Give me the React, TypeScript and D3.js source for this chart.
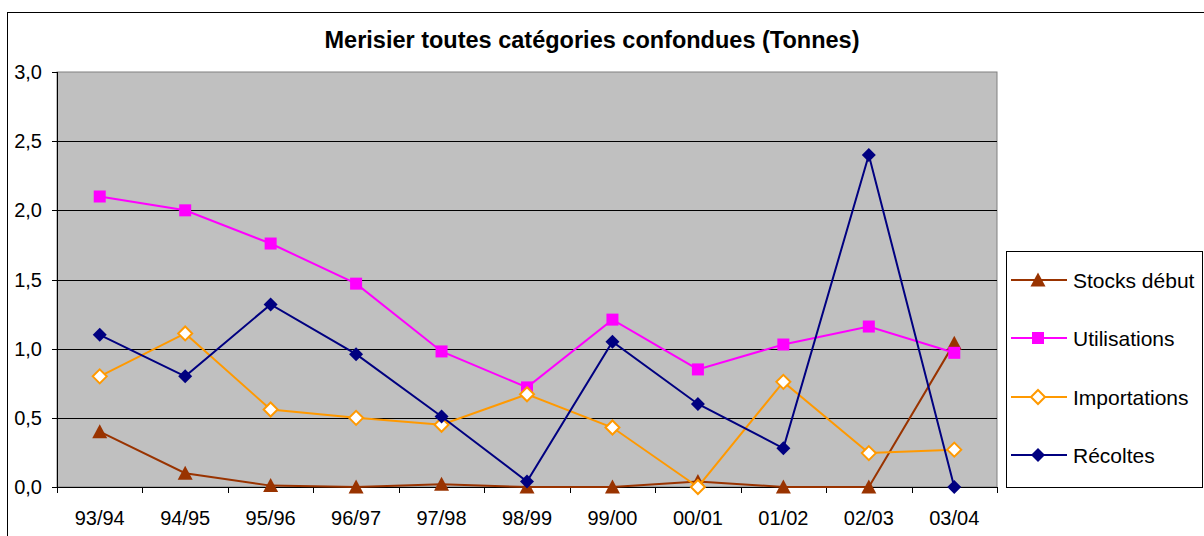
import React from "react";
import * as d3 from "d3";

const categories = ["93/94", "94/95", "95/96", "96/97", "97/98", "98/99", "99/00", "00/01", "01/02", "02/03", "03/04"];
const stocks = [0.4, 0.1, 0.01, 0, 0.02, 0, 0, 0.04, 0, 0, 1.04];
const utilisations = [2.1, 2.0, 1.76, 1.47, 0.98, 0.72, 1.21, 0.85, 1.03, 1.16, 0.97];
const importations = [0.8, 1.11, 0.56, 0.5, 0.45, 0.67, 0.43, 0.0, 0.76, 0.245, 0.27];
const recoltes = [1.1, 0.8, 1.32, 0.96, 0.51, 0.04, 1.05, 0.6, 0.28, 2.4, 0];
const yTicks = [0, 0.5, 1, 1.5, 2, 2.5, 3];
const title = "Merisier toutes catégories confondues (Tonnes)";

type Series = { name: string; values: number[]; color: string; marker: "triangle" | "square" | "diamondOpen" | "diamond" };
const series: Series[] = [
  { name: "Stocks début", values: stocks, color: "#993300", marker: "triangle" },
  { name: "Utilisations", values: utilisations, color: "#FF00FF", marker: "square" },
  { name: "Importations", values: importations, color: "#FF9900", marker: "diamondOpen" },
  { name: "Récoltes", values: recoltes, color: "#000080", marker: "diamond" },
];

const FONT = "Arial, 'Liberation Sans', sans-serif";

function Marker({ type, x, y, color }: { type: Series["marker"]; x: number; y: number; color: string }) {
  if (type === "square") {
    return <rect x={x - 6} y={y - 6} width={12} height={12} fill={color} />;
  }
  if (type === "triangle") {
    const p = `${x},${y - 7.5} ${x + 7.5},${y + 6.5} ${x - 7.5},${y + 6.5}`;
    return <polygon points={p} fill={color} />;
  }
  const r = 7;
  const p = `${x},${y - r} ${x + r},${y} ${x},${y + r} ${x - r},${y}`;
  if (type === "diamondOpen") {
    return <polygon points={p} fill="#fff" stroke={color} strokeWidth={2} />;
  }
  return <polygon points={p} fill={color} />;
}

export default function App() {
  const W = 1204, H = 536;
  const left = 57, right = 997, top = 72, bottom = 487;
  const x = d3.scaleBand<string>().domain(categories).range([left, right]);
  const y = d3.scaleLinear().domain([0, 3]).range([bottom, top]);
  const cx = (c: string) => (x(c) as number) + x.bandwidth() / 2;
  const line = d3.line<number>().x((_, i) => cx(categories[i])).y((v) => y(v));

  const legendTop = 251;
  const legendYs = [280, 338, 397, 455];

  return (
    <svg width={W} height={H} style={{ position: "absolute", left: 0, top: 0, background: "#fff" }} fontFamily={FONT}>
      <rect x={7.5} y={12.5} width={1210} height={540} fill="#fff" stroke="#000" strokeWidth={1} />
      <text x={592} y={48} textAnchor="middle" fontSize={23.5} fontWeight="bold" fill="#000">{title}</text>

      <rect x={left} y={top} width={right - left} height={bottom - top} fill="#C0C0C0" stroke="#808080" strokeWidth={1} />
      {yTicks.map((t) => (
        <g key={t}>
          {t > 0 && t < 3 && <line x1={left} x2={right} y1={Math.round(y(t)) + 0.5} y2={Math.round(y(t)) + 0.5} stroke="#000" strokeWidth={1} />}
          <line x1={left - 5} x2={left} y1={Math.round(y(t)) + 0.5} y2={Math.round(y(t)) + 0.5} stroke="#000" />
          <text x={42} y={y(t) + 7} textAnchor="end" fontSize={20} fill="#000">{d3.format(".1f")(t).replace(".", ",")}</text>
        </g>
      ))}
      <line x1={left + 0.5} x2={left + 0.5} y1={top} y2={bottom} stroke="#000" />
      <line x1={left} x2={right} y1={bottom + 0.5} y2={bottom + 0.5} stroke="#000" />
      {categories.map((c, i) => (
        <g key={c}>
          <line x1={Math.round((x(c) as number) + x.bandwidth()) + 0.5} x2={Math.round((x(c) as number) + x.bandwidth()) + 0.5} y1={bottom} y2={bottom + 6} stroke="#000" />
          {i === 0 && <line x1={left + 0.5} x2={left + 0.5} y1={bottom} y2={bottom + 6} stroke="#000" />}
          <text x={cx(c)} y={525} textAnchor="middle" fontSize={20} fill="#000">{c}</text>
        </g>
      ))}

      {series.map((s) => (
        <g key={s.name}>
          <path d={line(s.values) || ""} fill="none" stroke={s.color} strokeWidth={2} />
          {s.values.map((v, i) => (
            <Marker key={i} type={s.marker} x={cx(categories[i])} y={y(v)} color={s.color} />
          ))}
        </g>
      ))}

      <rect x={1006.5} y={legendTop + 0.5} width={196} height={236} fill="#fff" stroke="#000" strokeWidth={1} />
      {series.map((s, i) => (
        <g key={s.name}>
          <line x1={1011} x2={1067} y1={legendYs[i]} y2={legendYs[i]} stroke={s.color} strokeWidth={2} />
          <Marker type={s.marker} x={1038} y={legendYs[i]} color={s.color} />
          <text x={1073} y={legendYs[i] + 7.5} fontSize={21} fill="#000">{s.name}</text>
        </g>
      ))}
    </svg>
  );
}
